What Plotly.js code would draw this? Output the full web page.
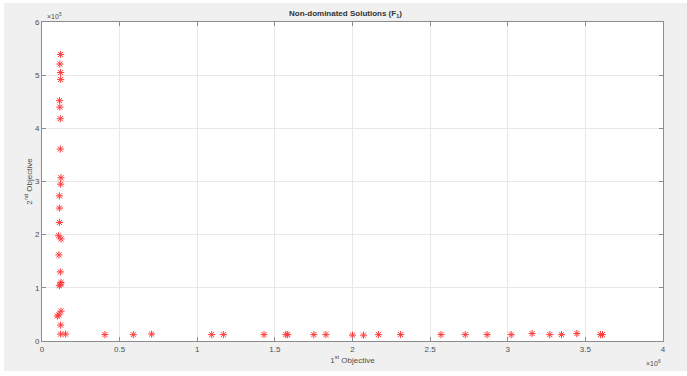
<!DOCTYPE html>
<html>
<head>
<meta charset="utf-8">
<script src="https://cdn.plot.ly/plotly-3.0.1.min.js"></script>
<style>
  html, body { margin: 0; padding: 0; background: #ffffff; }
  #chart { position: absolute; left: 4px; top: 3px; width: 683px; height: 368px; }
</style>
</head>
<body>
<div id="chart"></div>
<script>
// 1st objective (x 10^6) and 2nd objective (x 10^5)
const objective1 = [
  0.120, 0.115, 0.120, 0.120, 0.113, 0.115, 0.118,
  0.118, 0.122, 0.120, 0.112, 0.112, 0.112, 0.107, 0.122,
  0.109, 0.118, 0.122, 0.120, 0.112, 0.122, 0.109, 0.099, 0.120,
  0.120, 0.152,
  0.405, 0.588, 0.706, 1.093, 1.168, 1.430, 1.571, 1.582, 1.751, 1.829,
  2.000, 2.071, 2.168, 2.310, 2.570, 2.726, 2.867, 3.022, 3.157, 3.271,
  3.346, 3.445, 3.597, 3.610
];
const objective2 = [
  5.39, 5.21, 5.05, 4.92, 4.52, 4.40, 4.18,
  3.61, 3.07, 2.95, 2.73, 2.50, 2.23, 1.98, 1.92,
  1.62, 1.30, 1.10, 1.07, 1.04, 0.56, 0.49, 0.47, 0.30,
  0.13, 0.13,
  0.12, 0.12, 0.13, 0.12, 0.12, 0.12, 0.12, 0.12, 0.12, 0.12,
  0.11, 0.11, 0.12, 0.12, 0.12, 0.12, 0.12, 0.12, 0.14, 0.12,
  0.12, 0.14, 0.12, 0.12
];
const xTicks = [0, 0.5, 1, 1.5, 2, 2.5, 3, 3.5, 4];
const yTicks = [0, 1, 2, 3, 4, 5, 6];

const textColor = '#4d4d4d';
const font = { family: 'Arial, "Liberation Sans", sans-serif', size: 8, color: textColor };

const axisCommon = {
  showline: true, linecolor: '#8c8c8c', linewidth: 1, mirror: 'ticks',
  ticks: 'inside', ticklen: 4, tickcolor: '#8c8c8c', tickwidth: 1,
  showgrid: true, gridcolor: '#e8e8e8', gridwidth: 1,
  zeroline: false, tickfont: font
};

const trace = {
  x: objective1, y: objective2, mode: 'markers', type: 'scatter',
  marker: { symbol: 'asterisk-open', size: 6, color: '#ff3b3b', line: { color: '#ff3b3b', width: 1 } },
  hoverinfo: 'x+y'
};

const layout = {
  width: 683, height: 368,
  paper_bgcolor: '#f0f0f0', plot_bgcolor: '#ffffff',
  margin: { l: 38, r: 24, t: 19, b: 30 },
  showlegend: false,
  font: font,
  title: { text: '<b>Non-dominated Solutions (F<sub>1</sub>)</b>', font: { family: font.family, size: 8, color: '#333333' },
           x: 0.5, xanchor: 'center', y: 0.972, yanchor: 'middle' },
  xaxis: Object.assign({}, axisCommon, {
    range: [0, 4], tickvals: xTicks, ticktext: xTicks.map(String),
    title: { text: '1<sup>st</sup> Objective', font: font, standoff: 4 }
  }),
  yaxis: Object.assign({}, axisCommon, {
    range: [0, 6], tickvals: yTicks, ticktext: yTicks.map(String),
    title: { text: '2<sup>nd</sup> Objective', font: font, standoff: 1 }
  }),
  annotations: [
    { xref: 'paper', yref: 'paper', x: 0.005, y: 1.0, xanchor: 'left', yanchor: 'bottom',
      text: '\u00d710<sup>5</sup>', showarrow: false, font: { family: font.family, size: 7, color: textColor } },
    { xref: 'paper', yref: 'paper', x: 1.0, y: -0.05, xanchor: 'right', yanchor: 'top',
      text: '\u00d710<sup>6</sup>', showarrow: false, font: { family: font.family, size: 7, color: textColor } }
  ]
};

Plotly.newPlot('chart', [trace], layout, { displayModeBar: false, staticPlot: true });
</script>
</body>
</html>
